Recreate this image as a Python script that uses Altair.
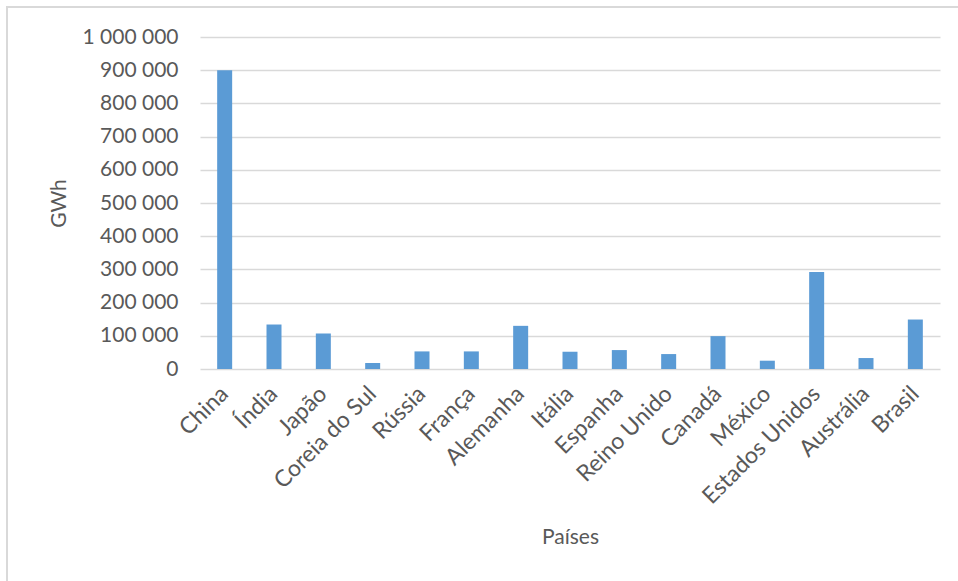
import altair as alt
import pandas as pd

paises = ["China", "Índia", "Japão", "Coreia do Sul", "Rússia", "França", "Alemanha",
          "Itália", "Espanha", "Reino Unido", "Canadá", "México", "Estados Unidos",
          "Austrália", "Brasil"]
gwh = [900000, 134000, 107000, 18000, 53000, 53000, 130000,
       52000, 57000, 45000, 99000, 25000, 292000, 33000, 149000]

df = pd.DataFrame({"País": paises, "GWh": gwh})

FONT = "Lato"
TXT = "#595959"
GRID = "#d9d9d9"

bars = alt.Chart(df).mark_bar(size=15, color="#5B9BD5").encode(
    x=alt.X("País:N", sort=paises,
            scale=alt.Scale(paddingInner=0, paddingOuter=0),
            axis=alt.Axis(title="Países", labelAngle=-45, labelAlign="right",
                          labelBaseline="middle", labelPadding=21, ticks=False,
                          domain=False, grid=False, labelFontSize=23, titleFontSize=21,
                          titleY=168, titleBaseline="middle",
                          labelFont=FONT, titleFont=FONT,
                          labelColor=TXT, titleColor=TXT, titleFontWeight="normal")),
    y=alt.Y("GWh:Q", scale=alt.Scale(domain=[0, 1000000]),
            axis=alt.Axis(title="GWh", values=list(range(0, 1000001, 100000)),
                          format=",d", ticks=False, domain=False, grid=True,
                          gridColor=GRID, gridWidth=1.5,
                          labelFontSize=21, titleFontSize=21, labelPadding=22,
                          labelFont=FONT, titleFont=FONT, labelColor=TXT,
                          titleColor=TXT, titleFontWeight="normal",
                          titleX=-131)),
)

border = alt.Chart(df).mark_rect(fill=None, stroke="#d9d9d9", strokeWidth=1.5, clip=False).encode(
    x=alt.value(-193), x2=alt.value(770), y=alt.value(-30), y2=alt.value(560)
)

chart = alt.layer(border, bars).properties(
    width=740, height=332,
    autosize=alt.AutoSizeParams(type="none"),
    padding={"left": 200, "top": 37, "right": 18, "bottom": 212},
).configure(
    locale={"number": {"decimal": ",", "thousands": "\u00a0", "grouping": [3],
                       "currency": ["", " €"]}},
).configure_view(stroke=None)

chart.save("out.html", embed_options={"renderer": "svg", "actions": False})
